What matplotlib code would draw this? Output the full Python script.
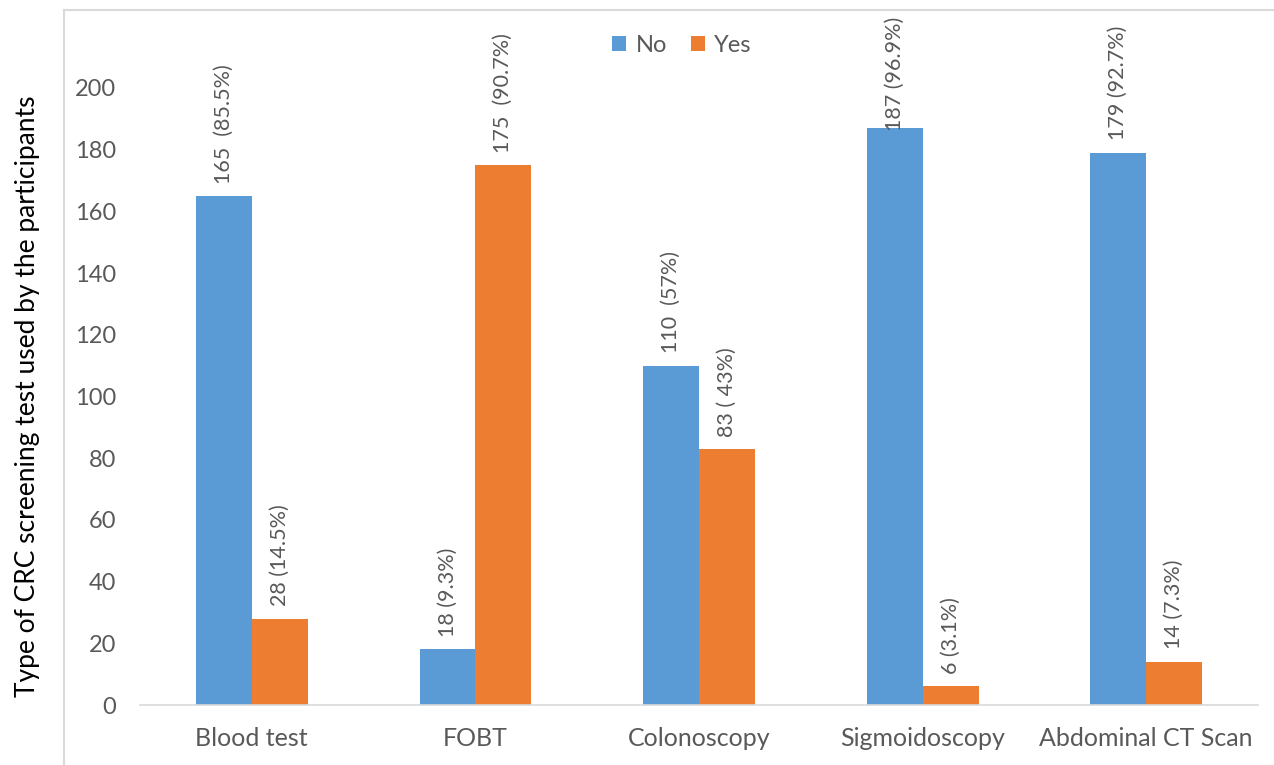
import numpy as np
import matplotlib.pyplot as plt
from matplotlib.lines import Line2D

# screening test categories and counts
tests = ["Blood test", "FOBT", "Colonoscopy", "Sigmoidoscopy", "Abdominal CT Scan"]
no_counts = [165, 18, 110, 187, 179]
yes_counts = [28, 175, 83, 6, 14]
no_labels = ["165  (85.5%)", "18 (9.3%)", "110  (57%)", "187 (96.9%)", "179 (92.7%)"]
yes_labels = ["28 (14.5%)", "175  (90.7%)", "83 ( 43%)", "6 (3.1%)", "14 (7.3%)"]

blue = "#5B9BD5"
orange = "#ED7D31"
grey_txt = "#595959"

plt.rcParams['font.family'] = ['Lato', 'DejaVu Sans']

fig = plt.figure(figsize=(12.74, 7.65), dpi=100)
ax = fig.add_axes([140/1274, 1-705/765, 1118/1274, (705-88)/765])

x = np.arange(len(tests))
w = 0.25
b1 = ax.bar(x - w/2, no_counts, w, color=blue, label="No")
b2 = ax.bar(x + w/2, yes_counts, w, color=orange, label="Yes")

# value labels, kept inside the chart frame at the top
for bars, labels in ((b1, no_labels), (b2, yes_labels)):
    for rect, lab in zip(bars, labels):
        v = rect.get_height()
        ax.text(rect.get_x() + rect.get_width()/2, min(v + 4, 186), lab,
                rotation=90, ha='center', va='bottom', fontsize=15.5,
                color=grey_txt, clip_on=False)

ax.set_xlim(-0.5, 4.5)
ax.set_ylim(0, 200)
ax.set_yticks(np.arange(0, 201, 20))
ax.set_xticks(x)
ax.set_xticklabels(tests)
ax.tick_params(axis='both', length=0, colors=grey_txt)
ax.tick_params(axis='y', pad=17, labelsize=17)
ax.tick_params(axis='x', pad=16, labelsize=18)

for s in ('top', 'right', 'left'):
    ax.spines[s].set_visible(False)
ax.spines['bottom'].set_color('#d9d9d9')
ax.spines['bottom'].set_linewidth(1.2)

ax.set_ylabel("Type of CRC screening test used by the participants",
              fontsize=19, color='black')
ax.yaxis.set_label_coords(-(140-40)/1118, 0.5)

leg = ax.legend(loc='upper center', bbox_to_anchor=(682/1274, 1-14/765),
                bbox_transform=fig.transFigure, ncol=2, frameon=False,
                fontsize=17, handlelength=0.6, handleheight=0.6,
                handletextpad=0.4, columnspacing=1.0)
for t in leg.get_texts():
    t.set_color(grey_txt)

# outer chart frame
fig.add_artist(Line2D([64/1274, 1.0], [1-10/765, 1-10/765], color='#d9d9d9', lw=1.5))
fig.add_artist(Line2D([64/1274, 64/1274], [0, 1-10/765], color='#d9d9d9', lw=1.5))

plt.savefig('out.png', dpi=100)
